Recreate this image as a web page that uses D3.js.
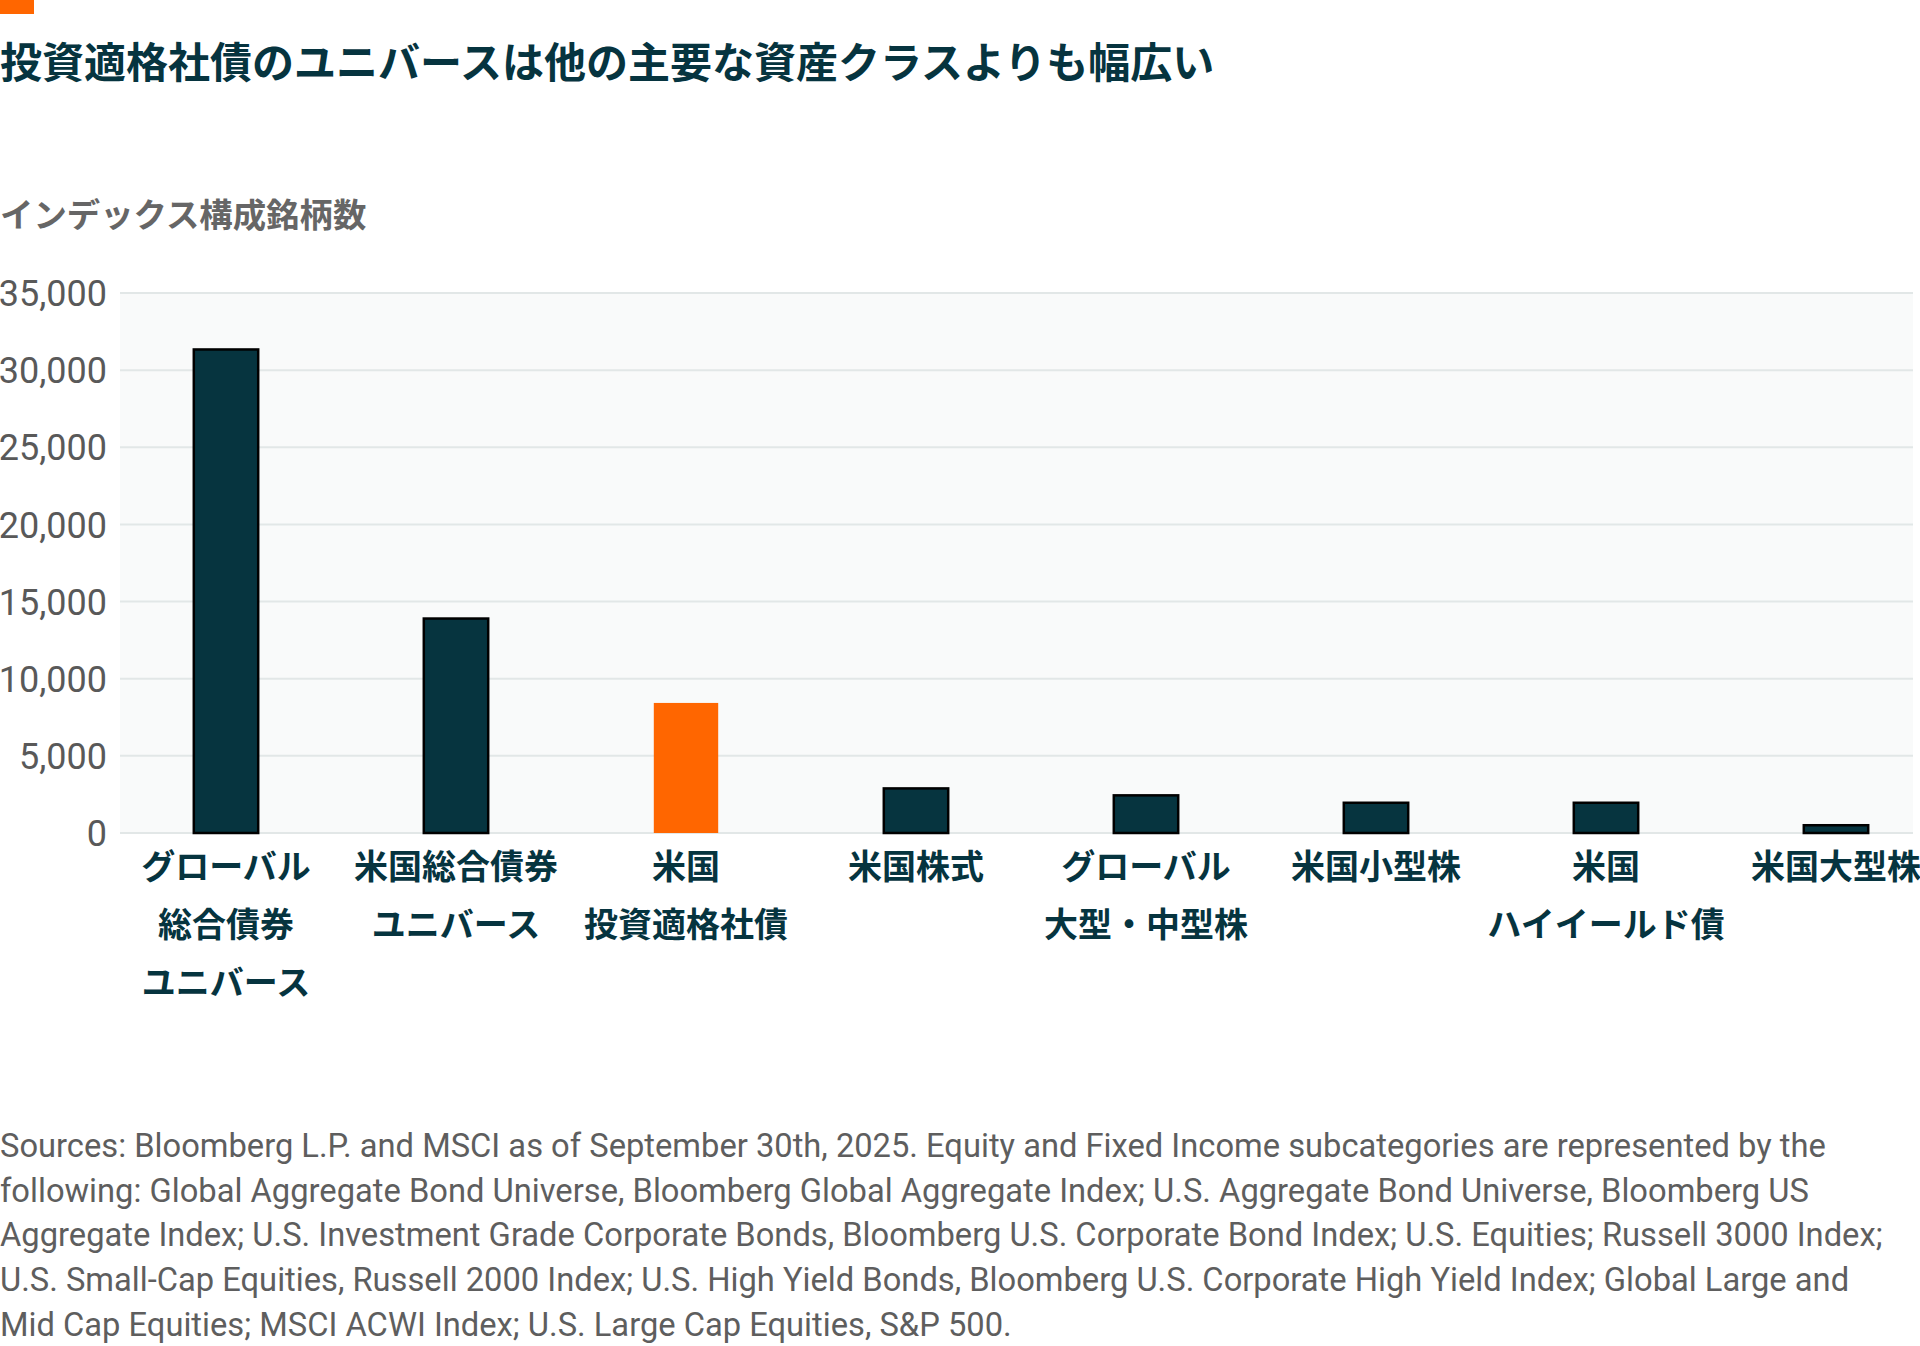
<!DOCTYPE html>
<html>
<head>
<meta charset="utf-8">
<script src="https://cdn.jsdelivr.net/npm/d3@7.9.0/dist/d3.min.js"></script>
<style>
  html, body { margin: 0; padding: 0; background: #fff; }
  svg { display: block; }
  .jp { font-family: "Noto Sans CJK JP", "Noto Sans", sans-serif; }
  .latin { font-family: Roboto, "Noto Sans", sans-serif; }
</style>
</head>
<body>
<svg id="chart" width="1920" height="1346"></svg>
<script>
const title = '投資適格社債のユニバースは他の主要な資産クラスよりも幅広い';
const yTitle = 'インデックス構成銘柄数';
const categories = [
  'グローバル総合債券ユニバース', '米国総合債券ユニバース', '米国投資適格社債', '米国株式',
  'グローバル大型・中型株', '米国小型株', '米国ハイイールド債', '米国大型株'
];
const categoryLines = [
  ['グローバル', '総合債券', 'ユニバース'],
  ['米国総合債券', 'ユニバース'],
  ['米国', '投資適格社債'],
  ['米国株式'],
  ['グローバル', '大型・中型株'],
  ['米国小型株'],
  ['米国', 'ハイイールド債'],
  ['米国大型株']
];
const counts = [31340, 13900, 8430, 2890, 2440, 1960, 1960, 503];
const highlight = '米国投資適格社債';
const yTicks = [0, 5000, 10000, 15000, 20000, 25000, 30000, 35000];
const footnote = [
  'Sources: Bloomberg L.P. and MSCI as of September 30th, 2025. Equity and Fixed Income subcategories are represented by the',
  'following: Global Aggregate Bond Universe, Bloomberg Global Aggregate Index; U.S. Aggregate Bond Universe, Bloomberg US',
  'Aggregate Index; U.S. Investment Grade Corporate Bonds, Bloomberg U.S. Corporate Bond Index; U.S. Equities; Russell 3000 Index;',
  'U.S. Small-Cap Equities, Russell 2000 Index; U.S. High Yield Bonds, Bloomberg U.S. Corporate High Yield Index; Global Large and',
  'Mid Cap Equities; MSCI ACWI Index; U.S. Large Cap Equities, S&P 500.'
];

const dark = '#06343f';
const orange = '#ff6600';
const svg = d3.select('#chart');

const plot = { left: 120, right: 1913, top: 293, bottom: 833 };

const x = d3.scaleBand()
  .domain(categories)
  .range([111, 1951])
  .paddingInner(0.72)
  .paddingOuter(0.36);

const y = d3.scaleLinear()
  .domain([0, 35000])
  .range([plot.bottom, plot.top]);

// accent tab + title
svg.append('rect').attr('x', 0).attr('y', 0).attr('width', 34).attr('height', 14).attr('fill', orange);
svg.append('text').attr('class', 'jp')
  .attr('x', 0).attr('y', 78)
  .attr('font-size', 42).attr('font-weight', 700).attr('fill', dark)
  .text(title);

svg.append('text').attr('class', 'jp')
  .attr('x', 0).attr('y', 227)
  .attr('font-size', 33.4).attr('font-weight', 700).attr('fill', '#666')
  .text(yTitle);

// plot background + grid
svg.append('rect')
  .attr('x', plot.left).attr('y', plot.top)
  .attr('width', plot.right - plot.left).attr('height', plot.bottom - plot.top)
  .attr('fill', '#f9fafa');

svg.append('g')
  .selectAll('line')
  .data(yTicks)
  .join('line')
  .attr('x1', plot.left).attr('x2', plot.right)
  .attr('y1', d => y(d)).attr('y2', d => y(d))
  .attr('stroke', '#e2e7e7').attr('stroke-width', 2);

const yAxis = svg.append('g')
  .attr('transform', `translate(${plot.left - 13},0)`)
  .call(d3.axisLeft(y).tickValues(yTicks).tickSize(0).tickPadding(0).tickFormat(d3.format(',')));
yAxis.select('.domain').remove();
yAxis.selectAll('text')
  .attr('class', 'latin')
  .attr('font-size', 36)
  .attr('fill', '#595959')
  .attr('dy', '0.35em');

// bars
svg.append('g')
  .selectAll('rect')
  .data(categories)
  .join('rect')
  .attr('x', d => x(d))
  .attr('width', x.bandwidth())
  .attr('y', (d, i) => y(counts[i]))
  .attr('height', (d, i) => y(0) - y(counts[i]))
  .attr('fill', d => d === highlight ? orange : dark)
  .attr('stroke', d => d === highlight ? 'none' : '#000')
  .attr('stroke-width', 2.5);

// category labels
const labels = svg.append('g')
  .selectAll('text')
  .data(categories)
  .join('text')
  .attr('class', 'jp')
  .attr('text-anchor', 'middle')
  .attr('font-size', 34)
  .attr('font-weight', 700)
  .attr('fill', dark);

labels.selectAll('tspan')
  .data((d, i) => categoryLines[i].map(t => ({ t, c: d })))
  .join('tspan')
  .attr('x', d => x(d.c) + x.bandwidth() / 2)
  .attr('y', (d, j) => 879 + j * 58)
  .text(d => d.t);

// footnote
svg.append('g')
  .selectAll('text')
  .data(footnote)
  .join('text')
  .attr('class', 'latin')
  .attr('x', 0)
  .attr('y', (d, i) => 1157 + i * 44.7)
  .attr('font-size', 32.7)
  .attr('fill', '#5e5e5e')
  .text(d => d);
</script>
</body>
</html>
